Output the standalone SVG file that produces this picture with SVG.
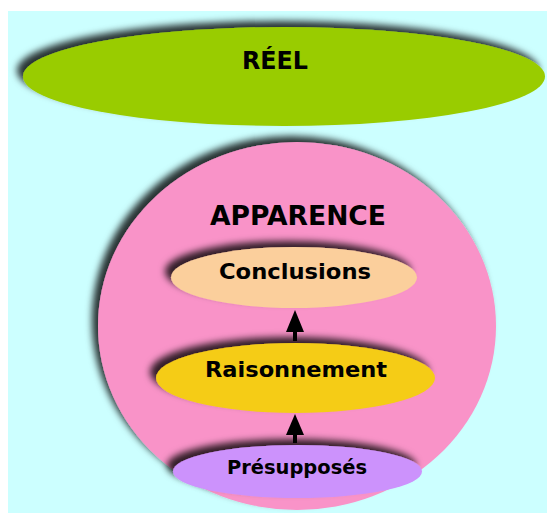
<svg xmlns="http://www.w3.org/2000/svg" width="547" height="514" viewBox="0 0 547 514">
<style>
.t{font-family:"DejaVu Sans","Verdana",sans-serif;font-weight:bold;fill:#000;text-anchor:middle}
.sh{filter:url(#ds)}
.shaft{stroke:#000;stroke-width:4}
.head{fill:#000}
</style>
<defs>
<filter id="ds" x="-20%" y="-30%" width="140%" height="160%">
<feDropShadow dx="-6" dy="-6" stdDeviation="3.5" flood-color="#000" flood-opacity="0.8"/>
</filter>
</defs>
<rect x="0" y="0" width="547" height="514" fill="#fff"/>
<rect x="8" y="11" width="539" height="502" fill="#ccffff"/>
<g id="reel">
<ellipse class="sh" cx="284" cy="76.5" rx="261" ry="49.5" fill="#99cc00"/>
<text class="t" x="275" y="69" font-size="24" textLength="66" lengthAdjust="spacingAndGlyphs">RÉEL</text>
</g>
<g id="apparence">
<ellipse class="sh" cx="297" cy="326" rx="199" ry="184" fill="#f993c8"/>
<text class="t" x="298" y="225" font-size="26" textLength="176" lengthAdjust="spacingAndGlyphs">APPARENCE</text>
</g>
<g id="conclusions">
<ellipse class="sh" cx="294" cy="277.5" rx="123" ry="30.5" fill="#fbcf9c"/>
<text class="t" x="295" y="279" font-size="21" textLength="152" lengthAdjust="spacingAndGlyphs">Conclusions</text>
</g>
<g id="connectors">
<line class="shaft" x1="295" y1="341" x2="295" y2="330"/>
<polygon class="head" points="295,310 304,332 286,332"/>
<line class="shaft" x1="295" y1="443" x2="295" y2="433"/>
<polygon class="head" points="295,414 304,435 286,435"/>
</g>
<g id="raisonnement">
<ellipse class="sh" cx="295.5" cy="378" rx="139.5" ry="35" fill="#f5cc17"/>
<text class="t" x="296" y="377" font-size="21" textLength="182" lengthAdjust="spacingAndGlyphs">Raisonnement</text>
</g>
<g id="presupposes">
<ellipse class="sh" cx="297.5" cy="471.5" rx="124.5" ry="26.5" fill="#cc92fc"/>
<text class="t" x="297" y="474" font-size="19" textLength="140" lengthAdjust="spacingAndGlyphs">Présupposés</text>
</g>
</svg>
